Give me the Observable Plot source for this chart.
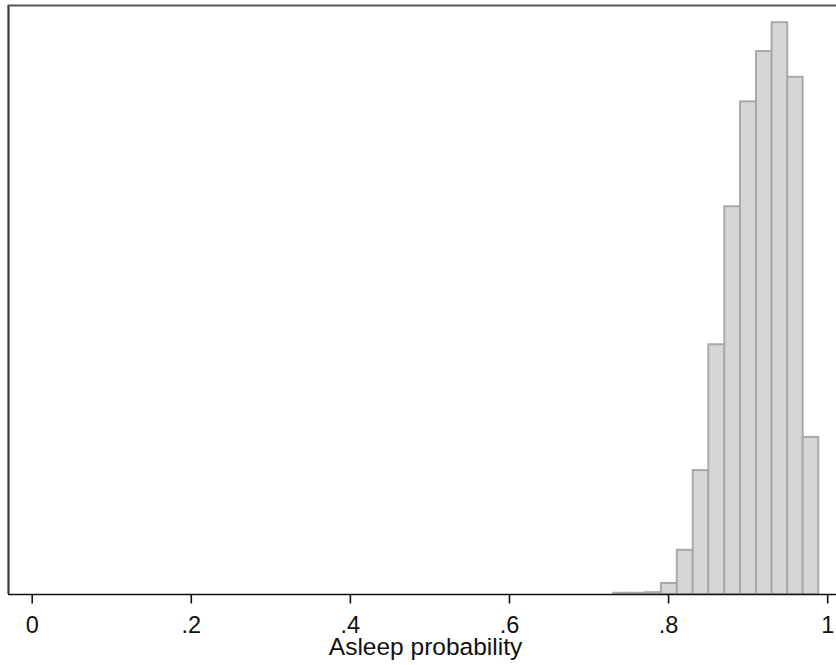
<!DOCTYPE html>
<html>
<head>
<meta charset="utf-8">
<script src="https://cdn.jsdelivr.net/npm/d3@7"></script>
<script src="https://cdn.jsdelivr.net/npm/@observablehq/plot@0.6"></script>
<style>
  html, body { margin: 0; padding: 0; background: #fff; }
  #chart svg { display: block; }
</style>
</head>
<body>
<div id="chart"></div>
<script>
// Histogram bins of asleep probability (bin lower / upper edges) and density heights
const binLo = [0.731, 0.751, 0.771, 0.791, 0.811, 0.831, 0.8506, 0.8707, 0.8904, 0.9105, 0.9302, 0.9498, 0.9692];
const binHi = [0.751, 0.771, 0.791, 0.811, 0.831, 0.8506, 0.8707, 0.8904, 0.9105, 0.9302, 0.9498, 0.9692, 0.9888];
const density = [0.02, 0.02, 0.03, 0.18, 0.72, 2.02, 4.07, 6.32, 8.03, 8.85, 9.32, 8.43, 2.56];

const tickValues = [0, 0.2, 0.4, 0.6, 0.8, 1];
const tickLabels = ["0", ".2", ".4", ".6", ".8", "1"];
const xTitle = "Asleep probability";

const bins = binLo.map((lo, i) => ({lo, hi: binHi[i], d: density[i]}));

const xDomain = [-0.0298, 1.0111];
const yDomain = [0, 9.6];

const chart = Plot.plot({
  width: 836,
  height: 665,
  marginLeft: 8,
  marginRight: 0,
  marginTop: 5,
  marginBottom: 71,
  style: {fontFamily: "'Liberation Sans', Arial, sans-serif", background: "#fff"},
  x: {domain: xDomain},
  y: {domain: yDomain, axis: null},
  marks: [
    Plot.rectY(bins, {x1: "lo", x2: "hi", y: "d", fill: "#d6d6d6", stroke: "#a9a9a9", strokeWidth: 2}),
    Plot.ruleX([xDomain[0]], {stroke: "#3a3a3a", strokeWidth: 2.2}),
    Plot.ruleY([yDomain[1]], {stroke: "#555", strokeWidth: 2.2}),
    Plot.ruleY([0], {stroke: "#111", strokeWidth: 1.6}),
    Plot.axisX({
      ticks: tickValues,
      tickFormat: (d) => tickLabels[tickValues.indexOf(d)],
      tickSize: 9.5,
      tickPadding: 12,
      fontSize: 23.5,
      stroke: "#111",
      strokeWidth: 1.6,
      fill: "#111",
      label: null
    }),
    Plot.text([xTitle], {
      text: (d) => d,
      frameAnchor: "bottom",
      lineAnchor: "middle",
      dy: 53,
      dx: 3,
      fontSize: 24.5,
      fill: "#111"
    })
  ]
});

document.getElementById("chart").appendChild(chart);
</script>
</body>
</html>
